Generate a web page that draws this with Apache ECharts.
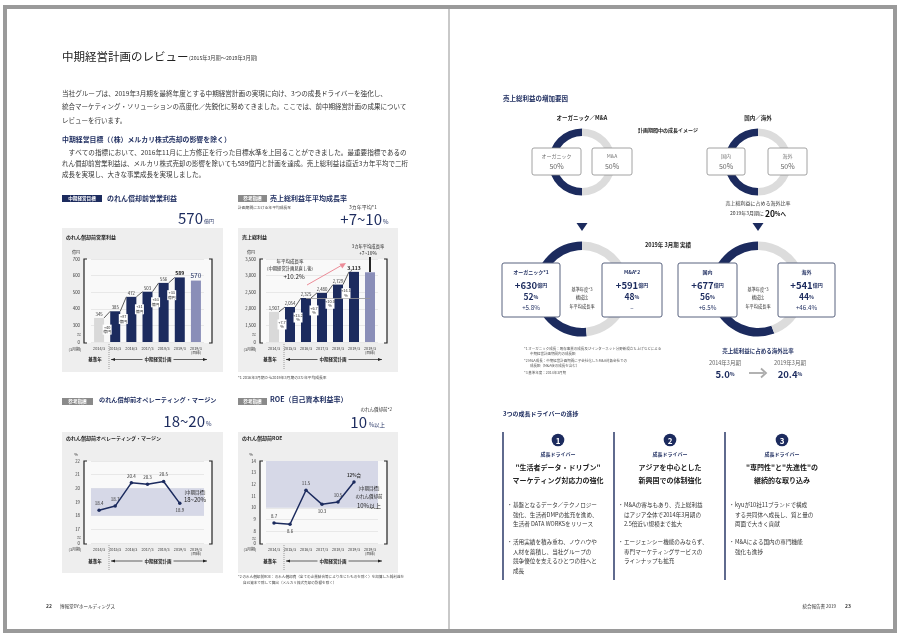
<!DOCTYPE html>
<html><head><meta charset="utf-8">
<script src="https://cdn.jsdelivr.net/npm/echarts@6.0.0/dist/echarts.min.js"></script>
<style>html,body{margin:0;padding:0;background:#fff;}#c{width:900px;height:639px;}</style>
</head><body><div id="c"></div>
<script>
// ---------------- data ----------------
const years = ['2014/3','2015/3','2016/3','2017/3','2018/3','2019/3','2019/3\n(目標)'];
const opProfit = [345, 385, 472, 503, 556, 589];
const opProfitTarget = 570;
const grossProfit = [1907, 2054, 2325, 2480, 2729, 3113];
const grossProfitTarget = 3100;
const opMargin = [18.4, 18.7, 20.4, 20.3, 20.5, 18.9];
const marginTarget = [18, 20];
const roe = [8.7, 8.6, 11.5, 10.3, 10.5, 12.2];
const roeLabels = ['8.7', '8.6', '11.5', '10.3', '10.5', '12%台'];
const roeTarget = [10, 14];
const planSplit = [50, 50];
const resultOrganicMA = [630, 591];
const resultDomOver = [677, 541];
const resultShare = [[52, 48], [56, 44]];
const resultCagr = [['+5.8', '–'], ['+6.5', '+46.4']];
const overseasRatio = [5.0, 20.4];

// ---------------- style ----------------
const F = '"Noto Sans CJK JP","Noto Sans",sans-serif';
const NAVY = '#1c2b5e';
const GRAYBAR = '#d9d9d9';
const TARGET = '#8a8eb8';
const PANEL = '#eeeeee';
const BAND = '#d6d8e7';
const DGRAY = '#dcdcdc';

const G = [];
function txt(x, y, text, size, o) {
  G.push({type: 'text', x: x, y: y, z: 10, silent: true,
    style: Object.assign({text: text, fontSize: size, fontFamily: F, fill: '#333', align: 'left', verticalAlign: 'middle'}, o || {})});
}
function rect(x, y, w, h, style, z, r) {
  G.push({type: 'rect', z: z == null ? -1 : z, silent: true, shape: {x: x, y: y, width: w, height: h, r: r || 0}, style: style});
}
function seg(x1, y1, x2, y2, style, z) {
  G.push({type: 'line', z: z == null ? 5 : z, silent: true, shape: {x1: x1, y1: y1, x2: x2, y2: y2}, style: style});
}
function poly(points, style, z, open) {
  G.push({type: open ? 'polyline' : 'polygon', z: z == null ? 5 : z, silent: true, shape: {points: points}, style: style});
}

// ---------- frame ----------
rect(5, 7, 890, 624, {fill: 'none', stroke: '#9a9a9a', lineWidth: 4}, 30);
seg(449, 9, 449, 629, {stroke: '#c9c9c9', lineWidth: 2}, 30);

// ---------- left page text ----------
txt(62, 57, '中期経営計画のレビュー', 11.5, {fill: '#222'});
txt(189, 58.5, '(2015年3月期～2019年3月期)', 5.2, {fill: '#333'});
txt(62, 93.5, '当社グループは、2019年3月期を最終年度とする中期経営計画の実現に向け、3つの成長ドライバーを強化し、', 6.6);
txt(62, 107, '統合マーケティング・ソリューションの高度化／先鋭化に努めてきました。ここでは、前中期経営計画の成果について', 6.5);
txt(62, 120.5, 'レビューを行います。', 6.5);
txt(62, 139, '中期経営目標（（株）メルカリ株式売却の影響を除く）', 6.9, {fill: NAVY, fontWeight: 'bold'});
txt(62, 152, '　すべての指標において、2016年11月に上方修正を行った目標水準を上回ることができました。最重要指標であるの', 6.6);
txt(62, 163.5, 'れん償却前営業利益は、メルカリ株式売却の影響を除いても589億円と計画を達成。売上総利益は直近3カ年平均で二桁', 6.5);
txt(62, 175, '成長を実現し、大きな事業成長を実現しました。', 6.5);

// ---------- panel decorations ----------
function badge(x, y, w, label, color) {
  rect(x, y, w, 7, {fill: color}, 5);
  txt(x + w / 2, y + 3.6, label, 4.6, {align: 'center', fill: '#fff', fontWeight: 'bold'});
}
function bracketPlot(L, R, top, bot) {
  rect(L, top, R - L, bot - top, {fill: '#f9f9f9'}, -1);
  poly([[L + 3, top], [L, top], [L, bot], [L + 3, bot]], {stroke: '#222', lineWidth: 1.2, fill: null}, 6, true);
  poly([[R - 3, top], [R, top], [R, bot], [R - 3, bot]], {stroke: '#222', lineWidth: 1.2, fill: null}, 6, true);
}
function periodRow(baseX, dotX, x2, y, yTop, yBot) {
  txt(baseX, y, '基準年', 4.5, {align: 'center', fontWeight: 'bold', fill: '#222'});
  seg(dotX, yTop, dotX, yBot, {stroke: '#777', lineWidth: 0.7, lineDash: [1, 1]});
  seg(dotX + 2, y, x2, y, {stroke: '#222', lineWidth: 0.7});
  poly([[dotX + 2, y], [dotX + 6, y - 1.6], [dotX + 6, y + 1.6]], {fill: '#222'});
  poly([[x2, y], [x2 - 4, y - 1.6], [x2 - 4, y + 1.6]], {fill: '#222'});
  txt((dotX + x2) / 2, y, '中期経営計画', 4.5, {align: 'center', fontWeight: 'bold', fill: '#222', backgroundColor: PANEL, padding: [0, 2]});
}

// Panel 1
badge(62, 195, 40, '中期経営目標', NAVY);
txt(107, 198.5, 'のれん償却前営業利益', 7, {fill: NAVY, fontWeight: 'bold'});
txt(203, 218, '570', 15, {align: 'right', fill: NAVY});
txt(204, 221, '億円', 5, {fill: NAVY});
rect(62, 228, 161, 144, {fill: PANEL}, -2);
txt(66, 237.5, 'のれん償却前営業利益', 5, {fill: '#222', fontWeight: 'bold'});
txt(76, 252.5, '億円', 4, {align: 'center', fill: '#333'});
txt(79, 334, '≈', 5, {align: 'center', fill: '#555'});
txt(75, 349, '(3月期)', 4, {align: 'center', fill: '#333'});
bracketPlot(84, 212, 259, 343);
periodRow(95, 109, 207, 359.5, 344, 369);

// Panel 2
badge(238, 195, 29, '参考指標', '#8a8a8a');
txt(270, 198.5, '売上総利益年平均成長率', 7, {fill: NAVY, fontWeight: 'bold'});
txt(238, 207.5, '計画期間における年平均成長率', 3.8, {fill: '#444'});
txt(363, 207.5, '3カ年平均*1', 5, {align: 'center', fill: '#333'});
txt(382, 219, '+7~10', 15, {align: 'right', fill: NAVY});
txt(383, 222, '%', 6, {fill: NAVY});
rect(238, 228, 160, 144, {fill: PANEL}, -2);
txt(242, 237.5, '売上総利益', 5, {fill: '#222', fontWeight: 'bold'});
txt(251, 252.5, '億円', 4, {align: 'center', fill: '#333'});
txt(254, 334, '≈', 5, {align: 'center', fill: '#555'});
txt(250, 349, '(3月期)', 4, {align: 'center', fill: '#333'});
bracketPlot(260, 387, 259, 343);
periodRow(270, 284, 382, 359.5, 344, 369);
txt(290, 261, '年平均成長率', 4.5, {align: 'center', fill: '#222'});
txt(290, 268.5, '(中期経営計画見直し後)', 4.3, {align: 'center', fill: '#222'});
txt(294, 277, '+10.2%', 6.2, {align: 'center', fill: '#222'});
seg(307, 285, 343, 264.5, {stroke: '#ec8c98', lineWidth: 1});
poly([[346, 263], [339.5, 263.8], [342.3, 268.5]], {fill: '#ec8c98'});
txt(368, 246.5, '3カ年平均成長率', 4.3, {align: 'center', fill: '#222'});
txt(368, 253.5, '+7~10%', 4.8, {align: 'center', fill: '#222'});
seg(370, 257, 370, 272, {stroke: '#111', lineWidth: 1.8}, 8);
txt(238, 378, '*1 2016年3月期から2019年3月期の3カ年平均成長率', 3.8, {fill: '#444'});

// Panel 3
badge(62, 398, 31, '参考指標', '#8a8a8a');
txt(99, 399.5, 'のれん償却前オペレーティング・マージン', 6.2, {fill: NAVY, fontWeight: 'bold'});
txt(205, 421, '18~20', 15, {align: 'right', fill: NAVY});
txt(206, 424, '%', 6, {fill: NAVY});
rect(62, 432, 161, 141, {fill: PANEL}, -2);
txt(66, 438.5, 'のれん償却前オペレーティング・マージン', 5, {fill: '#222', fontWeight: 'bold'});
txt(76, 454, '%', 4, {align: 'center', fill: '#333'});
txt(79, 537, '≈', 5, {align: 'center', fill: '#555'});
txt(75, 549, '(3月期)', 4, {align: 'center', fill: '#333'});
bracketPlot(84, 212, 461, 544);
periodRow(95, 109, 207, 561, 545, 571);
txt(195, 492, '[中期目標]', 4.5, {align: 'center', fill: '#222'});
txt(195, 499.5, '18~20%', 6, {align: 'center', fill: '#222'});

// Panel 4
badge(238, 398, 29, '参考指標', '#8a8a8a');
txt(270, 399.5, 'ROE（自己資本利益率）', 7, {fill: NAVY, fontWeight: 'bold'});
txt(392, 409, 'のれん償却前*2', 4.5, {align: 'right', fill: '#333'});
txt(367, 422, '10', 15, {align: 'right', fill: NAVY});
txt(369, 425, '%以上', 5.5, {fill: NAVY});
rect(238, 432, 160, 141, {fill: PANEL}, -2);
txt(242, 438.5, 'のれん償却前ROE', 5, {fill: '#222', fontWeight: 'bold'});
txt(251, 454, '%', 4, {align: 'center', fill: '#333'});
txt(254, 538, '≈', 5, {align: 'center', fill: '#555'});
txt(250, 549, '(3月期)', 4, {align: 'center', fill: '#333'});
bracketPlot(260, 387, 461, 544);
periodRow(270, 284, 382, 561, 545, 571);
txt(369, 488, '[中期目標]', 4.5, {align: 'center', fill: '#222'});
txt(369, 496.5, 'のれん償却前', 4.5, {align: 'center', fill: '#222'});
txt(369, 506, '10%以上', 6, {align: 'center', fill: '#222'});
txt(238, 577, '*2 のれん償却前ROE：のれん償却費（全ての企業結合等により生じたものを除く）を加算した純利益を', 3.6, {fill: '#444'});
txt(243, 583, '自己資本で除して算出（メルカリ株式売却の影響を除く）', 3.6, {fill: '#444'});

// footer
txt(46, 606, '22', 5, {fill: '#333', fontWeight: 'bold'});
txt(60, 606, '博報堂DYホールディングス', 4.5, {fill: '#333'});
txt(836, 606, '統合報告書 2019', 4.5, {fill: '#333', align: 'right'});
txt(848, 606, '23', 5, {fill: '#333', fontWeight: 'bold', align: 'center'});

// ---------- right page ----------
txt(503, 98.5, '売上総利益の増加要因', 6.5, {fill: NAVY, fontWeight: 'bold'});
txt(582, 118, 'オーガニック／M&A', 5.5, {align: 'center', fill: '#222', fontWeight: 'bold'});
txt(758, 118, '国内／海外', 5.5, {align: 'center', fill: '#222', fontWeight: 'bold'});
txt(668, 130, '計画期間中の成長イメージ', 5, {align: 'center', fill: '#222', fontWeight: 'bold'});

function planBox(x, y, w, h, name, val) {
  rect(x, y, w, h, {fill: '#fff', stroke: '#8c8c8c', lineWidth: 0.8}, 8, 2);
  txt(x + w / 2, y + 8, name, 5, {align: 'center', fill: '#777'});
  txt(x + w / 2, y + 18.5, val + '%', 7, {align: 'center', fill: '#666'});
}
planBox(532, 148, 49, 27, 'オーガニック', planSplit[0]);
planBox(592, 148, 40, 27, 'M&A', planSplit[1]);
planBox(707, 148, 38, 27, '国内', planSplit[0]);
planBox(768, 148, 39, 27, '海外', planSplit[1]);
txt(758, 203, '売上総利益に占める海外比率', 5, {align: 'center', fill: '#333'});
txt(758, 213.5, '{a|2019年3月期に }{b|20}{c|%へ}', 5, {align: 'center',
  rich: {a: {fontSize: 5, fill: '#333', fontFamily: F}, b: {fontSize: 8.5, fill: '#111', fontWeight: 'bold', fontFamily: F}, c: {fontSize: 5.5, fill: '#111', fontWeight: 'bold', fontFamily: F}}});
poly([[576.5, 223], [587.5, 223], [582, 231]], {fill: NAVY}, 10);
poly([[752.5, 223], [763.5, 223], [758, 231]], {fill: NAVY}, 10);
txt(668, 245, '2019年 3月期 実績', 5.5, {align: 'center', fill: '#222', fontWeight: 'bold'});

function resultBox(x, y, w, h, name, amount, share, cagr) {
  rect(x, y, w, h, {fill: '#fff', stroke: '#58627f', lineWidth: 1}, 8, 2);
  const cx = x + w / 2;
  txt(cx, y + 9.5, name, 5, {align: 'center', fill: NAVY, fontWeight: 'bold'});
  txt(cx, y + 22, '{v|+' + amount + '}{u|億円}', 9, {align: 'center',
    rich: {v: {fontSize: 9.5, fill: NAVY, fontWeight: 'bold', fontFamily: F}, u: {fontSize: 5, fill: NAVY, fontWeight: 'bold', fontFamily: F}}});
  txt(cx, y + 34, '{v|' + share + '}{u|%}', 8, {align: 'center',
    rich: {v: {fontSize: 8.5, fill: NAVY, fontWeight: 'bold', fontFamily: F}, u: {fontSize: 5, fill: NAVY, fontWeight: 'bold', fontFamily: F}}});
  txt(cx, y + 45, cagr === '–' ? '–' : cagr + '%', 6.2, {align: 'center', fill: NAVY});
}
resultBox(502, 263, 58, 54, 'オーガニック*1', resultOrganicMA[0], resultShare[0][0], resultCagr[0][0]);
resultBox(602, 263, 60, 54, 'M&A*2', resultOrganicMA[1], resultShare[0][1], resultCagr[0][1]);
resultBox(678, 263, 59, 54, '国内', resultDomOver[0], resultShare[1][0], resultCagr[1][0]);
resultBox(778, 263, 57, 54, '海外', resultDomOver[1], resultShare[1][1], resultCagr[1][1]);
[582, 758].forEach(function (cx) {
  txt(cx, 289, '基準年度*3', 4.2, {align: 'center', fill: '#333'});
  txt(cx, 297.5, '構成比', 4.2, {align: 'center', fill: '#333'});
  txt(cx, 306, '年平均成長率', 4.2, {align: 'center', fill: '#333'});
});
txt(524, 349, '*1 オーガニック成長：既存事業の成長及びインターネット分野新規立ち上げなどによる', 3.5, {fill: '#555'});
txt(530, 354, '中期経営計画期間内の成長額', 3.5, {fill: '#555'});
txt(524, 361, '*2 M&A成長：中期経営計画期間に子会社化したM&A対象会社での', 3.5, {fill: '#555'});
txt(530, 366, '成長額（M&A後の成長を含む）', 3.5, {fill: '#555'});
txt(524, 373, '*3 基準年度：2014年3月期', 3.5, {fill: '#555'});
txt(758, 351, '売上総利益に占める海外比率', 5.5, {align: 'center', fill: NAVY, fontWeight: 'bold'});
txt(725, 363, '2014年3月期', 5.5, {align: 'center', fill: '#666'});
txt(790, 363, '2019年3月期', 5.5, {align: 'center', fill: '#666'});
txt(725, 374.5, '{v|' + overseasRatio[0].toFixed(1) + '}{u|%}', 9, {align: 'center',
  rich: {v: {fontSize: 9.5, fill: NAVY, fontWeight: 'bold', fontFamily: F}, u: {fontSize: 5, fill: NAVY, fontWeight: 'bold', fontFamily: F}}});
txt(790, 374.5, '{v|' + overseasRatio[1].toFixed(1) + '}{u|%}', 9, {align: 'center',
  rich: {v: {fontSize: 9.5, fill: NAVY, fontWeight: 'bold', fontFamily: F}, u: {fontSize: 5, fill: NAVY, fontWeight: 'bold', fontFamily: F}}});
seg(749, 373, 764, 373, {stroke: '#aaa', lineWidth: 1.8});
poly([[761, 368.5], [766, 373], [761, 377.5]], {stroke: '#aaa', lineWidth: 1.8, fill: null}, 5, true);

// growth drivers
txt(503, 414, '3つの成長ドライバーの進捗', 6, {fill: NAVY, fontWeight: 'bold'});
const cols = [
  {lx: 503, cx: 558, n: '1', h: ['"生活者データ・ドリブン"', 'マーケティング対応力の強化'],
   b: [['基盤となるデータ／テクノロジー', '強化、生活者DMPの拡充を進め、', '生活者 DATA WORKSをリリース'],
       ['活用実績を積み重ね、ノウハウや', '人材を蓄積し、当社グループの', '競争優位を支えるひとつの柱へと', '成長']]},
  {lx: 614, cx: 670, n: '2', h: ['アジアを中心とした', '新興国での体制強化'],
   b: [['M&Aの寄与もあり、売上総利益', 'はアジア全体で2014年3月期の', '2.5倍近い規模まで拡大'],
       ['エージェンシー機能のみならず、', '専門マーケティングサービスの', 'ラインナップも拡充']]},
  {lx: 725, cx: 782, n: '3', h: ['"専門性"と"先進性"の', '継続的な取り込み'],
   b: [['kyuが10社11ブランドで構成', 'する共同体へ成長し、質と量の', '両面で大きく貢献'],
       ['M&Aによる国内の専門機能', '強化も進捗']]}
];
cols.forEach(function (c) {
  seg(c.lx, 432, c.lx, 580, {stroke: NAVY, lineWidth: 1.4});
  G.push({type: 'circle', z: 8, silent: true, shape: {cx: c.cx, cy: 440, r: 6.3}, style: {fill: NAVY}});
  txt(c.cx, 440.5, c.n, 8, {align: 'center', fill: '#fff', fontWeight: 'bold'});
  txt(c.cx, 454, '成長ドライバー', 5, {align: 'center', fill: NAVY, fontWeight: 'bold'});
  txt(c.cx, 467, c.h[0], 7, {align: 'center', fill: '#222', fontWeight: 'bold'});
  txt(c.cx, 480.5, c.h[1], 7, {align: 'center', fill: '#222', fontWeight: 'bold'});
  const starts = [505, 542];
  c.b.forEach(function (lines, bi) {
    txt(c.lx + 4, starts[bi], '・', 5.5, {fill: '#333'});
    lines.forEach(function (ln, li) {
      txt(c.lx + 10, starts[bi] + li * 9.6, ln, 5.6, {fill: '#333'});
    });
  });
});

// ---------------- charts ----------------
function gridOf(left, top, w, h) {
  return {left: left, top: top, width: w, height: h, outerBoundsMode: 'none', containLabel: false, show: false};
}
function xAx(gi) {
  return {type: 'category', gridIndex: gi, data: years, boundaryGap: true,
    axisLine: {show: false}, axisTick: {show: false},
    axisLabel: {fontSize: 3.8, color: '#333', margin: 4, lineHeight: 4.5, interval: 0, fontFamily: F}};
}
function yAx(gi, min, max, itv, margin, fmt) {
  return {type: 'value', gridIndex: gi, min: min, max: max, interval: itv,
    axisLine: {show: false}, axisTick: {show: false},
    splitLine: {show: true, lineStyle: {color: '#dcdcdc', width: 0.6}},
    axisLabel: {fontSize: 4.3, color: '#333', margin: margin, fontFamily: F, formatter: fmt}};
}
function stepSeries(gi, vals, fmt) {
  const d = [];
  for (let i = 0; i < vals.length - 1; i++) d.push([i, vals[i], vals[i + 1]]);
  return {
    type: 'custom', xAxisIndex: gi, yAxisIndex: gi, z: 6, silent: true, clip: false,
    data: d, encode: {x: 0, y: 1},
    renderItem: function (params, api) {
      const i = api.value(0), a = api.value(1), b = api.value(2);
      const p1 = api.coord([i, a]), p2 = api.coord([i + 1, b]);
      const hw = 5;
      const mx = (p1[0] + p2[0]) / 2;
      const my = (p1[1] + p2[1]) / 2 + 15;
      return {type: 'group', children: [
        {type: 'line', shape: {x1: p1[0] + hw, y1: p1[1], x2: p2[0] - hw, y2: p2[1]}, style: {stroke: '#333', lineWidth: 0.8}},
        {type: 'rect', shape: {x: mx - 4.5, y: my - 5, width: 9, height: 10}, style: {fill: '#fff'}},
        {type: 'text', x: mx, y: my, style: {text: fmt(a, b), fontSize: 3.8, fill: '#222', align: 'center', verticalAlign: 'middle', fontFamily: F, lineHeight: 4.6}}
      ]};
    }
  };
}
function pie(center, radius, vals) {
  return {type: 'pie', center: center, radius: radius, clockwise: false, startAngle: 90, silent: true,
    label: {show: false}, labelLine: {show: false}, z: 2,
    itemStyle: {borderWidth: 0},
    data: vals.map(function (v, i) { return {value: v, itemStyle: {color: i === 0 ? NAVY : DGRAY}}; })};
}

const p1Data = opProfit.map(function (v, i) { return {value: v, itemStyle: {color: i === 0 ? GRAYBAR : NAVY}}; })
  .concat([{value: opProfitTarget, itemStyle: {color: TARGET}, label: {fontSize: 6.5, color: NAVY}}]);
p1Data[5].label = {fontSize: 5, color: '#111', fontWeight: 'bold'};
const p2Data = grossProfit.map(function (v, i) { return {value: v, itemStyle: {color: i === 0 ? GRAYBAR : NAVY}}; })
  .concat([{value: grossProfitTarget, itemStyle: {color: TARGET}, label: {show: false}}]);
p2Data[5].label = {fontSize: 5, color: '#111', fontWeight: 'bold'};

const option = {
  animation: false,
  backgroundColor: '#ffffff',
  textStyle: {fontFamily: F},
  grid: [gridOf(91, 259, 113, 83), gridOf(266, 259, 112, 83), gridOf(91, 461, 113, 82), gridOf(266, 461, 112, 82)],
  xAxis: [xAx(0), xAx(1), xAx(2), xAx(3)],
  yAxis: [
    yAx(0, 200, 700, 100, 11, function (v) { return v === 200 ? '0' : String(v); }),
    yAx(1, 1000, 3500, 500, 10, function (v) { return v === 1000 ? '0' : v.toLocaleString('en-US'); }),
    yAx(2, 16, 22, 1, 11, function (v) { return v === 16 ? '0' : String(v); }),
    yAx(3, 7, 14, 1, 10, function (v) { return v === 7 ? '0' : String(v); })
  ],
  graphic: {elements: G},
  series: [
    {type: 'bar', xAxisIndex: 0, yAxisIndex: 0, barWidth: 10, data: p1Data, z: 3,
      label: {show: true, position: 'top', distance: 1.5, fontSize: 4.3, color: '#333', fontFamily: F}},
    stepSeries(0, opProfit, function (a, b) { return '+' + (b - a) + '\n億円'; }),
    {type: 'bar', xAxisIndex: 1, yAxisIndex: 1, barWidth: 10, data: p2Data, z: 3,
      label: {show: true, position: 'top', distance: 1.5, fontSize: 4.3, color: '#333', fontFamily: F,
        formatter: function (p) { return p.value.toLocaleString('en-US'); }},
      markLine: {silent: true, symbol: 'none', label: {show: false}, lineStyle: {color: '#999', width: 0.8, type: 'solid'},
        data: [[{coord: [2, grossProfit[2]]}, {coord: [6, grossProfit[2]]}]]}},
    stepSeries(1, grossProfit, function (a, b) { return '+' + ((b / a - 1) * 100).toFixed(1) + '\n%'; }),
    {type: 'line', xAxisIndex: 2, yAxisIndex: 2, z: 4, symbol: 'circle', symbolSize: 3.5,
      lineStyle: {color: NAVY, width: 1.5}, itemStyle: {color: NAVY},
      label: {show: true, fontSize: 4.5, color: '#333', distance: 3, fontFamily: F},
      data: opMargin.map(function (v, i) { return {value: v, label: {position: i === 5 ? 'bottom' : 'top'}}; }),
      markArea: {silent: true, itemStyle: {color: BAND}, data: [[{yAxis: marginTarget[0]}, {yAxis: marginTarget[1]}]]}},
    {type: 'line', xAxisIndex: 3, yAxisIndex: 3, z: 4, symbol: 'circle', symbolSize: 3.5,
      lineStyle: {color: NAVY, width: 1.5}, itemStyle: {color: NAVY},
      label: {show: true, fontSize: 4.5, color: '#333', distance: 3, fontFamily: F,
        formatter: function (p) { return roeLabels[p.dataIndex]; }},
      data: roe.map(function (v, i) { return {value: v, label: {position: (i === 1 || i === 3) ? 'bottom' : 'top', fontWeight: i === 5 ? 'bold' : 'normal'}}; }),
      markArea: {silent: true, itemStyle: {color: BAND}, data: [[{yAxis: roeTarget[0]}, {yAxis: roeTarget[1]}]]}},
    pie([582, 162], [26, 33.5], planSplit),
    pie([758, 162], [26, 33.5], planSplit),
    pie([582, 289], [39, 47.5], resultOrganicMA),
    pie([758, 289], [39, 47.5], resultDomOver)
  ]
};
const chart = echarts.init(document.getElementById('c'), null, {renderer: 'canvas'});
chart.setOption(option);
</script></body></html>
